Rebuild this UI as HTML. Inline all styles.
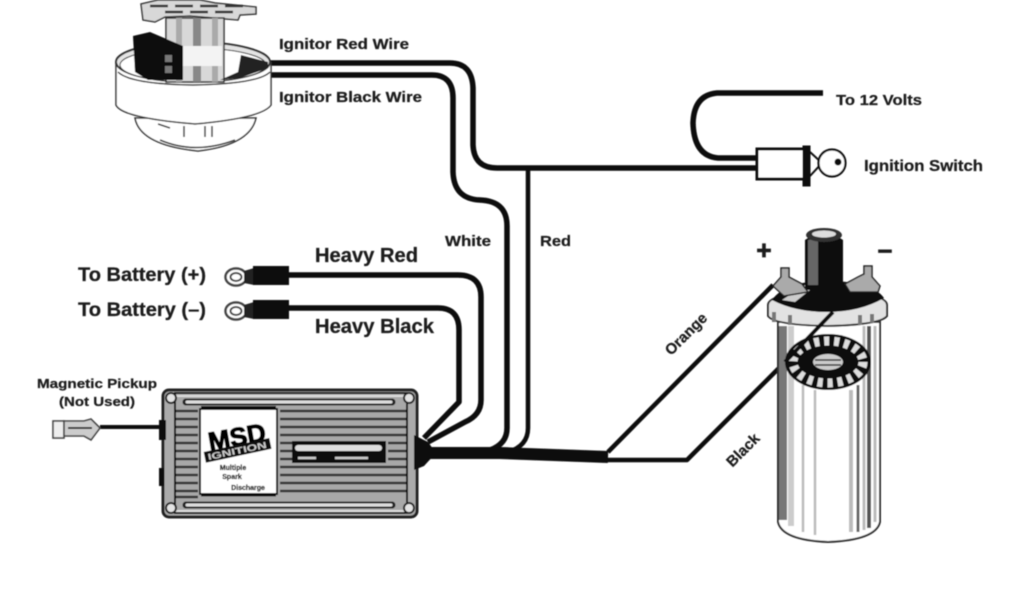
<!DOCTYPE html>
<html><head><meta charset="utf-8"><style>
html,body{margin:0;padding:0;background:#fff;width:1024px;height:600px;overflow:hidden}
svg{display:block}
text{font-family:"Liberation Sans",sans-serif;font-weight:bold;fill:#1c1c1c;stroke:#1c1c1c;stroke-width:.25}
</style></head><body>
<svg width="1024" height="600" viewBox="0 0 1024 600" xmlns="http://www.w3.org/2000/svg">
<defs><filter id="b" x="-2%" y="-2%" width="104%" height="104%"><feGaussianBlur stdDeviation="0.6"/></filter></defs>
<rect width="1024" height="600" fill="#fff"/>
<g filter="url(#b)">
<!-- wires -->
<g fill="none" stroke="#0a0a0a" stroke-linejoin="round">
<path d="M268 63H450Q472 63 473 88V145Q474 168 497 168H757" stroke-width="5.5"/>
<path d="M268 75H432Q453 75 453 98V172Q454 199 480 200Q507 201 507 226V428Q507 444 490 450" stroke-width="5.5"/>
<path d="M528 168V428Q528 446 508 452" stroke-width="4.5"/>
<path d="M289 275H458Q481 275 481 297V400Q481 415 465 422L428 442" stroke-width="5.5"/>
<path d="M289 308H438Q459 308 459 330V402L424 438" stroke-width="5.5"/>
<path d="M424 453H500L608 457" stroke-width="12"/>
<path d="M600 460H687L785 362L833 312" stroke-width="4.5"/>
<path d="M608 452L773 285" stroke-width="4.5"/>
<path d="M823 93H717Q694 95 693 123Q694 156 718 158H757" stroke-width="5.5"/>
<path d="M100 427H162" stroke-width="4"/>
</g>
<!-- distributor -->
<g stroke="#333" fill="#fff">
<path d="M141 4L158 0H200L215 3L256 7L256 14L240 15L238 20L190 16L165 17L155 22L143 20Z" stroke-width="1.5" fill="#d8d8d8"/>
<path d="M150 6H250M165 12H240" stroke="#333" stroke-width="2.5" fill="none" stroke-dasharray="18 7"/>
<path d="M135 118Q140 145 198 151Q250 145 256 118Z" stroke-width="1.5"/>
<path d="M160 140Q195 155 235 140" fill="none" stroke-width="1.5"/>
<path d="M116 62V105Q122 118 195 124Q262 118 271 105V62" stroke-width="1.5"/>
<ellipse cx="193" cy="62" rx="77" ry="20" fill="#e4e4e4" stroke-width="2"/>
<ellipse cx="193" cy="65" rx="73" ry="17" fill="#fff" stroke-width="1"/>
<rect x="166" y="18" width="58" height="64" fill="#d8d8d8" stroke-width="1.5"/>
<rect x="176" y="18" width="6" height="64" fill="#aaa" stroke="none"/>
<rect x="193" y="18" width="8" height="64" fill="#888" stroke="none"/>
<rect x="212" y="18" width="6" height="64" fill="#aaa" stroke="none"/>
<rect x="168" y="46" width="54" height="20" fill="#f3f3f3" stroke="none"/>
<path d="M133 36L150 32L183 46V80H148L135 72Z" fill="#0c0c0c" stroke="none"/>
<path d="M165 55H172V62H165ZM165 66H172V73H165Z" fill="#777" stroke="none"/>
<path d="M241 55L268 62L268 68L240 78L220 80L238 72Z" fill="#222" stroke="none"/>
<path d="M118 72Q130 84 193 85Q258 84 270 72" fill="none" stroke-width="1.5"/>
<path d="M158 124L170 128M184 126V137M205 126V137M212 126V137" stroke-width="1.5" fill="none"/>
</g>
<!-- terminals -->
<g fill="#fff" stroke="#444">
<ellipse cx="236" cy="277" rx="10.5" ry="8.5" stroke-width="2.5"/><ellipse cx="236" cy="277" rx="5.5" ry="4" stroke-width="2"/>
<ellipse cx="236" cy="311" rx="10.5" ry="8.5" stroke-width="2.5"/><ellipse cx="236" cy="311" rx="5.5" ry="4" stroke-width="2"/>
<path d="M244 271L254 268V285L244 283Z" fill="#222" stroke="none"/>
<path d="M244 305L254 302V319L244 317Z" fill="#222" stroke="none"/>
</g>
<rect x="253" y="266" width="36" height="19" fill="#0c0c0c"/>
<rect x="253" y="300" width="36" height="19" fill="#0c0c0c"/>
<!-- pickup connector -->
<g stroke="#444" fill="#fff" stroke-width="1.6">
<rect x="53" y="421" width="11" height="17" fill="#eee"/>
<path d="M64 421H84L91 419L100 428L91 440L84 436H64Z" fill="#ccc"/>
<path d="M68 428H92" stroke="#333" stroke-width="2"/>
</g>
<!-- MSD box -->
<rect x="163" y="390" width="254" height="127" rx="6" fill="#aaa" stroke="#222" stroke-width="3"/>
<rect x="175" y="393" width="232" height="120" fill="#a8a8a8" stroke="#111" stroke-width="2"/>
<path d="M186 402H392M186 505H392" stroke="#222" stroke-width="7" stroke-linecap="round"/>
<path d="M187 402H391M187 505H391" stroke="#ddd" stroke-width="3" stroke-linecap="round"/>
<path d="M168 396H412M168 511H412" stroke="#ddd" stroke-width="2"/>
<g stroke="#333" stroke-width="2.6">
<path d="M176 411H198M176 419H198M176 427H198M176 435H198M176 443H198M176 451H198M176 459H198M176 467H198M176 475H198M176 483H198M176 491H198M176 497H198"/>
<path d="M280 411H406M280 419H406M280 427H406M280 435H406M280 467H406M280 475H406M280 483H406M280 491H406M280 443H292M280 451H292M280 459H292M388 443H406M388 451H406M388 459H406"/>
</g>
<g fill="#e4e4e4" stroke="#222" stroke-width="2">
<circle cx="171" cy="398" r="5"/><circle cx="409" cy="398" r="5"/><circle cx="171" cy="508" r="5"/><circle cx="409" cy="508" r="5"/>
</g>
<rect x="200" y="409" width="77" height="85" fill="#fff" stroke="#111" stroke-width="2"/>
<path d="M201 408H276" stroke="#111" stroke-width="4"/>
<path d="M201 495H276" stroke="#111" stroke-width="3"/>
<rect x="292" y="441" width="94" height="22" fill="#111"/>
<rect x="295" y="445" width="87" height="6" rx="3" fill="#ddd"/>
<path d="M298 458H316M335 458H368" stroke="#ccc" stroke-width="2.5"/>
<text x="237" y="446" text-anchor="middle" font-size="26" transform="rotate(-10 237 437)" style="fill:#000;stroke:#000;stroke-width:1.2" textLength="58" lengthAdjust="spacingAndGlyphs">MSD</text>
<rect x="204" y="445" width="67" height="11" fill="#111" transform="rotate(-12 237 450)"/>
<text x="237" y="454" text-anchor="middle" font-size="9" transform="rotate(-12 237 450)" style="fill:#ccc;stroke:none" textLength="60" lengthAdjust="spacingAndGlyphs">IGNITION</text>
<text x="233" y="470" text-anchor="middle" font-size="7">Multiple</text>
<text x="232" y="479" text-anchor="middle" font-size="7">Spark</text>
<text x="248" y="490" text-anchor="middle" font-size="7">Discharge</text>
<rect x="159" y="420" width="7" height="20" fill="#111"/>
<rect x="159" y="468" width="5" height="18" fill="#111"/>
<path d="M414 435L428 442L436 453L424 466L414 470Z" fill="#0a0a0a"/>
<!-- switch -->
<g fill="#fff" stroke="#111">
<rect x="757" y="149" width="47" height="30" stroke-width="3"/>
<rect x="803" y="146" width="7" height="40" fill="#111" stroke-width="1"/>
<path d="M810 152L822 163L810 176" fill="none" stroke-width="2"/>
<circle cx="832" cy="163" r="13.5" stroke-width="2.2"/>
<circle cx="838" cy="162" r="3.5" fill="#111" stroke="none"/>
</g>
<!-- coil -->
<path d="M778 322V522Q782 540 828 542Q876 540 880 522V322Z" fill="#fff" stroke="#333" stroke-width="2"/>
<g fill="none">
<path d="M783 326V520" stroke="#777" stroke-width="8"/>
<path d="M791 326V526" stroke="#ccc" stroke-width="6"/>
<path d="M803 385V532M815 390V535" stroke="#bbb" stroke-width="2.5"/>
<path d="M851 390V532" stroke="#bbb" stroke-width="4"/>
<path d="M858 385V532" stroke="#666" stroke-width="3"/>
<path d="M864 326V530" stroke="#bbb" stroke-width="3"/>
<path d="M869 326V528" stroke="#555" stroke-width="4"/>
<path d="M875 326V522" stroke="#bbb" stroke-width="3"/>
</g>
<path d="M768 305Q768 293 827 291Q887 293 887 305V316Q880 325 827 326Q774 325 768 316Z" fill="#e2e2e2" stroke="#333" stroke-width="2"/>
<path d="M774 312V322M790 315V325M860 315V325M872 314V323" stroke="#777" stroke-width="4"/>
<path d="M772 300Q785 281 827 281Q872 281 884 298Q860 312 827 312Q795 312 772 300Z" fill="#0c0c0c"/>
<path d="M782 300L805 285L815 286L795 302Z" fill="#ccc"/>
<path d="M805 240V290H843V240Q824 226 805 240Z" fill="#0a0a0a"/>
<path d="M808 240V285H818V238Z" fill="#666"/>
<ellipse cx="824" cy="235" rx="18" ry="7" fill="#333"/>
<ellipse cx="824" cy="234" rx="12" ry="3.5" fill="#ddd"/>
<g stroke="#222" stroke-width="1.5" fill="#aaa">
<path d="M773 286L781 277V268H789V277L802 284L808 292L784 296Z"/>
<path d="M845 284L858 277L864 274V266H872V277L880 286L878 292L850 292Z"/>
</g>
<ellipse cx="828" cy="362" rx="43" ry="28" fill="#111"/>
<ellipse cx="828" cy="362" rx="35" ry="21" fill="none" stroke="#ddd" stroke-width="9" stroke-dasharray="5 5"/>
<ellipse cx="828" cy="362" rx="23" ry="13" fill="#111"/>
<ellipse cx="828" cy="362" rx="15" ry="8" fill="#ccc"/>
<path d="M815 360H841M815 365H841" stroke="#333" stroke-width="1.5"/>
<path d="M785 362L833 312" stroke="#0a0a0a" stroke-width="4"/>
<!-- labels -->
<text x="279" y="49" font-size="15" textLength="130" lengthAdjust="spacingAndGlyphs">Ignitor Red Wire</text>
<text x="279" y="102" font-size="15" textLength="143" lengthAdjust="spacingAndGlyphs">Ignitor Black Wire</text>
<text x="836" y="105" font-size="15" textLength="86" lengthAdjust="spacingAndGlyphs">To 12 Volts</text>
<text x="864" y="171" font-size="15.5" textLength="119" lengthAdjust="spacingAndGlyphs">Ignition Switch</text>
<text x="445" y="246" font-size="15" textLength="46" lengthAdjust="spacingAndGlyphs">White</text>
<text x="540" y="246" font-size="15" textLength="31" lengthAdjust="spacingAndGlyphs">Red</text>
<text x="315" y="262" font-size="20" textLength="103" lengthAdjust="spacingAndGlyphs">Heavy Red</text>
<text x="315" y="333" font-size="20" textLength="119" lengthAdjust="spacingAndGlyphs">Heavy Black</text>
<text x="78" y="281" font-size="19" textLength="128" lengthAdjust="spacingAndGlyphs">To Battery (+)</text>
<text x="78" y="316" font-size="19" textLength="128" lengthAdjust="spacingAndGlyphs">To Battery (–)</text>
<text x="37" y="388" font-size="13" textLength="120" lengthAdjust="spacingAndGlyphs">Magnetic Pickup</text>
<text x="59" y="406" font-size="13" textLength="76" lengthAdjust="spacingAndGlyphs">(Not Used)</text>
<text x="686" y="339" font-size="15" text-anchor="middle" transform="rotate(-45 686 334)">Orange</text>
<text x="743" y="455" font-size="15" text-anchor="middle" transform="rotate(-45 743 450)">Black</text>
<text x="764" y="259" font-size="26" text-anchor="middle" style="stroke-width:.8">+</text>
<text x="885" y="258" font-size="26" text-anchor="middle" style="stroke-width:.8">–</text>
</g>
</svg>
</body></html>
